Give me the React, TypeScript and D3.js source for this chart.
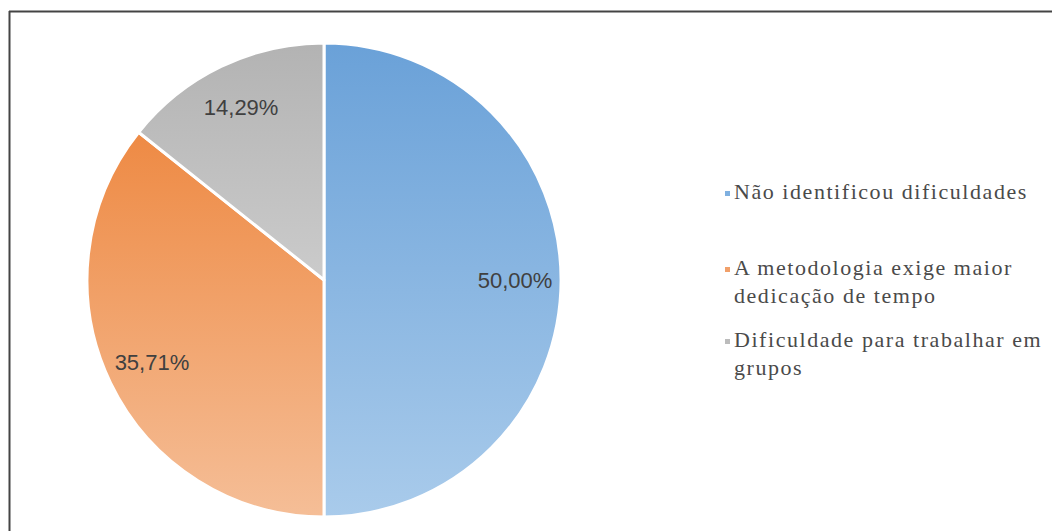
import React, { useEffect, useRef } from "react";
import * as d3 from "d3";

const categories = [
  "Não identificou dificuldades",
  "A metodologia exige maior dedicação de tempo",
  "Dificuldade para trabalhar em grupos",
];
const values = [50.0, 35.71, 14.29];
const valueLabels = ["50,00%", "35,71%", "14,29%"];
const legendLines = [
  ["Não identificou dificuldades"],
  ["A metodologia exige maior", "dedicação de tempo"],
  ["Dificuldade para trabalhar em", "grupos"],
];
const gradTop = ["#6aa1d8", "#ee8a44", "#b3b3b3"];
const gradBottom = ["#a9cbeb", "#f5be97", "#cbcbcb"];
const markerColors = ["#7fb0e0", "#f1a06a", "#bcbcbc"];

export default function App() {
  const ref = useRef<SVGSVGElement>(null);
  useEffect(() => {
    const W = 1052, H = 531;
    const svg = d3.select(ref.current!);
    svg.selectAll("*").remove();
    svg.attr("width", W).attr("height", H);
    svg.append("rect").attr("width", W).attr("height", H).attr("fill", "#fff");

    const defs = svg.append("defs");
    categories.forEach((_, i) => {
      const g = defs.append("linearGradient").attr("id", "g" + i)
        .attr("x1", 0).attr("y1", 0).attr("x2", 0).attr("y2", 1);
      g.append("stop").attr("offset", "0%").attr("stop-color", gradTop[i]);
      g.append("stop").attr("offset", "100%").attr("stop-color", gradBottom[i]);
    });

    // frame
    svg.append("line").attr("x1", 9).attr("x2", W).attr("y1", 11.5).attr("y2", 11.5)
      .attr("stroke", "#444").attr("stroke-width", 2);
    svg.append("line").attr("x1", 9.5).attr("x2", 9.5).attr("y1", 11).attr("y2", H)
      .attr("stroke", "#444").attr("stroke-width", 2);

    const cx = 324, cy = 280, r = 237;
    const pie = d3.pie<number>().sort(null).value((d) => d);
    const arcs = pie(values);
    const arc = d3.arc<d3.PieArcDatum<number>>().innerRadius(0).outerRadius(r);
    const labelArc = d3.arc<d3.PieArcDatum<number>>().innerRadius(191).outerRadius(191);

    const g = svg.append("g").attr("transform", `translate(${cx},${cy})`);
    g.selectAll("path").data(arcs).enter().append("path")
      .attr("d", arc as any)
      .attr("fill", (_, i) => `url(#g${i})`)
      .attr("stroke", "#fff").attr("stroke-width", 3).attr("stroke-linejoin", "round");

    g.selectAll("text.lbl").data(arcs).enter().append("text")
      .attr("class", "lbl")
      .attr("x", (d) => labelArc.centroid(d)[0])
      .attr("y", (d) => labelArc.centroid(d)[1])
      .attr("text-anchor", "middle").attr("dominant-baseline", "central")
      .attr("font-family", "'Liberation Sans', Arial, sans-serif")
      .attr("font-size", 22).attr("fill", "#404040")
      .text((_, i) => valueLabels[i]);

    // legend
    const baselines = [[199], [275, 303], [347, 375]];
    const lg = svg.append("g");
    legendLines.forEach((lines, i) => {
      lg.append("rect").attr("x", 725).attr("y", baselines[i][0] - 8)
        .attr("width", 5).attr("height", 5).attr("fill", markerColors[i]);
      lines.forEach((t, j) => {
        lg.append("text").attr("x", 734).attr("y", baselines[i][j])
          .attr("font-family", "'Liberation Serif', 'Times New Roman', serif")
          .attr("font-size", 22).attr("letter-spacing", 1.55)
          .attr("fill", "#4a4a4a").text(t);
      });
    });
  }, []);
  return (
    <svg ref={ref} style={{ position: "absolute", left: 0, top: 0, display: "block" }} />
  );
}
